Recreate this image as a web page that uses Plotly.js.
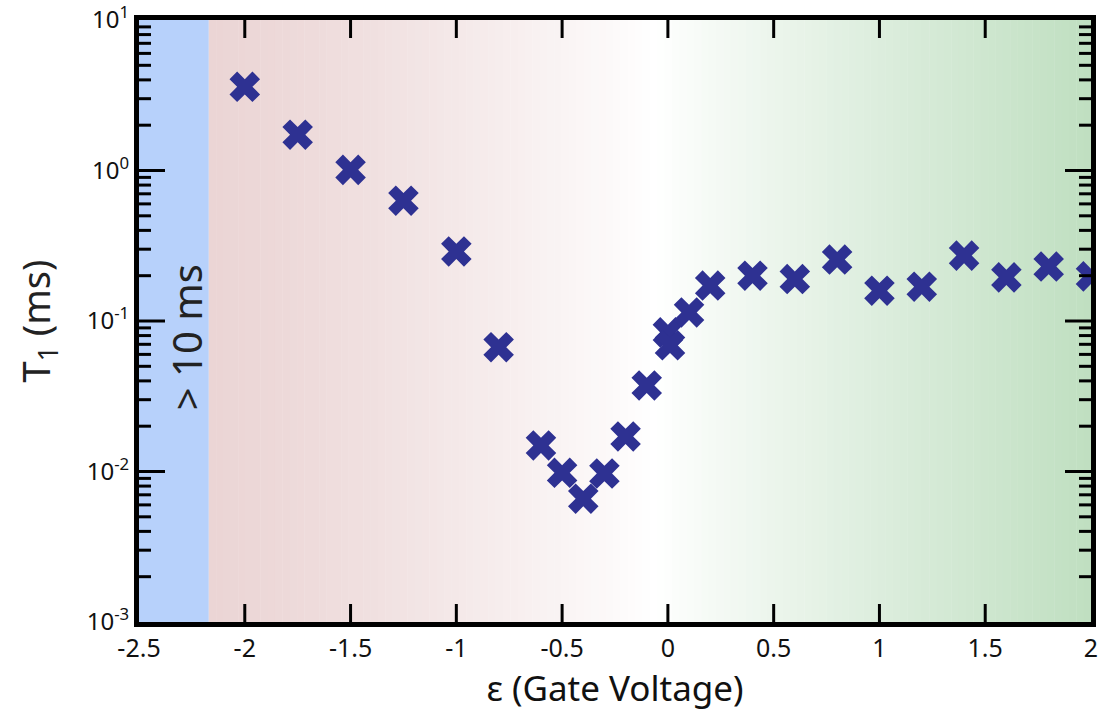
<!DOCTYPE html>
<html><head><meta charset="utf-8">
<script src="https://cdn.plot.ly/plotly-3.0.1.min.js"></script>
<style>html,body{margin:0;padding:0;background:#fff}#c{width:1102px;height:713px}</style>
</head><body><div id="c"></div>
<script>
const gateVoltage = [-2.0, -1.75, -1.5, -1.25, -1.0, -0.8, -0.6, -0.5, -0.4, -0.3, -0.2, -0.1, 0.0, 0.01, 0.1, 0.2, 0.4, 0.6, 0.8, 1.0, 1.2, 1.4, 1.6, 1.8, 2.0];
const t1ms = [3.6, 1.73, 1.01, 0.63, 0.29, 0.067, 0.0149, 0.0098, 0.0066, 0.0097, 0.0171, 0.0373, 0.084, 0.069, 0.114, 0.172, 0.20, 0.19, 0.256, 0.159, 0.169, 0.272, 0.195, 0.23, 0.198];
const xTicks = [-2.5, -2, -1.5, -1, -0.5, 0, 0.5, 1, 1.5, 2];
const yTickVals = [0.001, 0.01, 0.1, 1, 10];
const yTickText = ['10<sup>-3</sup>', '10<sup>-2</sup>', '10<sup>-1</sup>', '10<sup>0</sup>', '10<sup>1</sup>'];
const blueEdge = -2.17;

const shapes = [];
shapes.push({type:'rect', xref:'x', yref:'paper', x0:-2.5, x1:blueEdge, y0:0, y1:1, fillcolor:'#b7d1fb', line:{width:0}, layer:'below'});
const pink=[235,213,213], white=[255,255,255], green=[192,223,193];
const mid=-0.05, N=120;
for(let i=0;i<N;i++){
  const a=blueEdge+(2-blueEdge)*i/N, b=blueEdge+(2-blueEdge)*(i+1)/N, c=(a+b)/2;
  let col;
  if(c<mid){const t=(c-blueEdge)/(mid-blueEdge); col=pink.map((v,k)=>Math.round(v+(white[k]-v)*Math.pow(t,1.3)));}
  else {const t=(c-mid)/(2-mid); col=white.map((v,k)=>Math.round(v+(green[k]-v)*Math.pow(t,0.9)));}
  shapes.push({type:'rect', xref:'x', yref:'paper', x0:a, x1:b+0.002, y0:0, y1:1, fillcolor:`rgb(${col.join(',')})`, line:{width:0}, layer:'below'});
}
// tick marks drawn as shapes (inside, on all four sides)
const tk = {color:'#000', width:3};
xTicks.slice(1,-1).forEach(v=>{
  shapes.push({type:'line', xref:'x', yref:'paper', x0:v, x1:v, ysizemode:'pixel', yanchor:0, y0:0, y1:18, line:tk, layer:'above'});
  shapes.push({type:'line', xref:'x', yref:'paper', x0:v, x1:v, ysizemode:'pixel', yanchor:1, y0:0, y1:-18, line:tk, layer:'above'});
});
const minorY=[];
yTickVals.slice(0,-1).forEach(d=>{for(let m=2;m<=9;m++) minorY.push(d*m);});
yTickVals.slice(1,-1).forEach(v=>{
  shapes.push({type:'line', yref:'y', xref:'paper', y0:v, y1:v, xsizemode:'pixel', xanchor:0, x0:0, x1:26, line:tk, layer:'above'});
  shapes.push({type:'line', yref:'y', xref:'paper', y0:v, y1:v, xsizemode:'pixel', xanchor:1, x0:0, x1:-26, line:tk, layer:'above'});
});
minorY.forEach(v=>{
  shapes.push({type:'line', yref:'y', xref:'paper', y0:v, y1:v, xsizemode:'pixel', xanchor:0, x0:0, x1:12, line:tk, layer:'above'});
  shapes.push({type:'line', yref:'y', xref:'paper', y0:v, y1:v, xsizemode:'pixel', xanchor:1, x0:0, x1:-12, line:tk, layer:'above'});
});

const trace = {x:gateVoltage, y:t1ms, mode:'markers', type:'scatter', cliponaxis:true,
  marker:{symbol:'x', size:27, color:'#2e3192', line:{width:0}}};

const font='"Noto Sans", "Open Sans", sans-serif';
const hidden = {ticks:'inside', ticklen:1, tickwidth:1, tickcolor:'rgba(0,0,0,0)', ticklabeloverflow:'allow'};
const layout = {
  width:1102, height:713, margin:{l:139, r:11, t:20, b:91},
  paper_bgcolor:'#fff', plot_bgcolor:'#fff', showlegend:false,
  font:{family:font, color:'#111'},
  shapes:shapes,
  xaxis:Object.assign({range:[-2.5,2], tickvals:xTicks, ticktext:xTicks.map(String),
    showline:true, linewidth:5, linecolor:'#000', mirror:true, showgrid:false, zeroline:false,
    tickfont:{size:25, family:font, color:'#111'},
    title:{text:'ε (Gate Voltage)', font:{size:35, family:font, color:'#111'}, standoff:6}}, hidden),
  yaxis:Object.assign({type:'log', range:[-3,1], tickvals:yTickVals, ticktext:yTickText,
    showline:true, linewidth:5, linecolor:'#000', mirror:true, showgrid:false, zeroline:false,
    tickfont:{size:24, family:font, color:'#111'},
    title:{text:'T<sub>1</sub> (ms)', font:{size:38, family:font, color:'#222'}, standoff:26}}, hidden),
  annotations:[{x:-2.275, y:-1.11, xref:'x', yref:'y', text:'> 10 ms', showarrow:false, textangle:-90,
    font:{size:40, family:font, color:'#222'}}]
};
Plotly.newPlot('c',[trace],layout,{displayModeBar:false, staticPlot:true});
</script></body></html>
